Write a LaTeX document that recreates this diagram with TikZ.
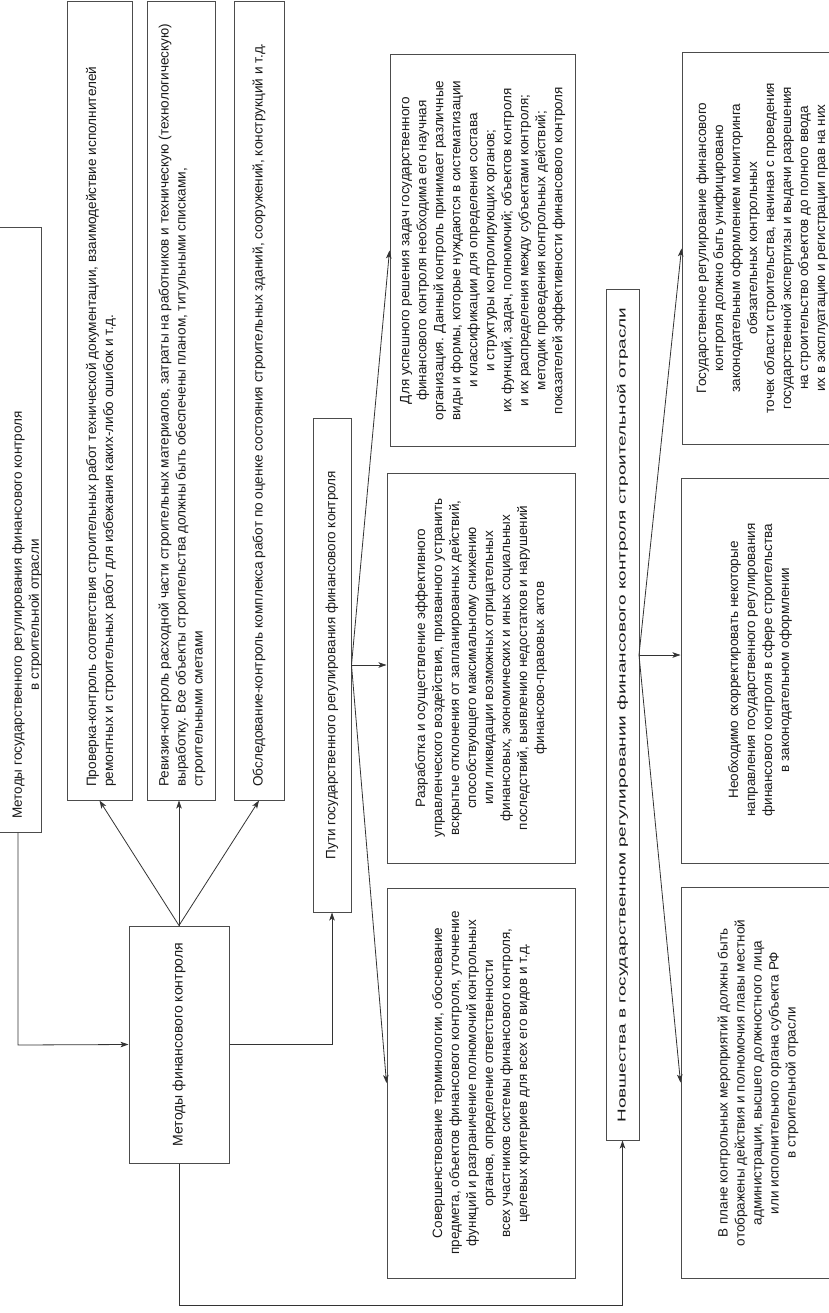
\documentclass[tikz,border=0pt]{standalone}
\usepackage{fontspec}
\setmainfont{Liberation Sans}
\usetikzlibrary{arrows.meta,fit,calc}
\begin{document}
\begin{tikzpicture}[x=1pt,y=1pt,
  box/.style={draw=black!70, line width=1pt, inner sep=0pt, fill=white},
  arr/.style={draw=black!80, line width=0.8pt, -{Stealth[length=8pt,width=5.5pt,inset=2pt]}},
  lbl/.style={rotate=90, font=\fontsize{13.5}{17}\selectfont, text=black!90, inner sep=0pt},
  lblb/.style={lbl, font=\fontsize{13.6}{17}\selectfont},
  ]
\fill[white] (0,0) rectangle (828,-1313);
\useasboundingbox (0,0) rectangle (828,-1313);

% left column
\node[box, fit={(-20,-228) (41,-832)}] (A) {};
\node[lbl, align=center] (At) at (27,-615) {Методы государственного регулирования финансового контроля\\в строительной отрасли};

\node[box, fit={(67,-2) (132,-800)}] (B1) {};
\node[lblb, anchor=west, align=left] (B1t) at (101,-787) {Проверка-контроль соответствия строительных работ технической документации, взаимодействие исполнителей\\ремонтных и строительных работ для избежания каких-либо ошибок и т.д.};

\node[box, fit={(147,-2) (215,-800)}] (B2) {};
\node[lblb, anchor=west, align=left] (B2t) at (182,-787) {Ревизия-контроль расходной части строительных материалов, затраты на работников и техническую (технологическую)\\выработку. Все объекты строительства должны быть обеспечены планом, титульными списками,\\строительными сметами};

\node[box, fit={(234,-2) (284,-800)}] (B3) {};
\node[lblb, anchor=west, align=left] (B3t) at (259,-787) {Обследование-контроль комплекса работ по оценке состояния строительных зданий, сооружений, конструкций и т.д.};

\node[box, fit={(129,-926) (229,-1163)}] (M) {};
\node[lbl, font=\fontsize{14}{17}\selectfont] (Mt) at (M.center) {Методы финансового контроля};

\node[box, fit={(313,-418) (351,-912)}] (P) {};
\node[lbl] (Pt) at (P.center) {Пути государственного регулирования финансового контроля};

% middle column
\node[box, fit={(390,-55) (575,-446)}] (D1) {};
\node[lbl, align=center] (D1t) at (D1.center) {Для успешного решения задач государственного\\финансового контроля необходима его научная\\организация. Данный контроль принимает различные\\виды и формы, которые нуждаются в систематизации\\и классификации для определения состава\\и структуры контролирующих органов;\\их функций, задач, полномочий; объектов контроля\\и их распределения между субъектами контроля;\\методик проведения контрольных действий;\\показателей эффективности финансового контроля};

\node[box, fit={(387,-473) (575,-863)}] (D2) {};
\node[lbl, align=center] (D2t) at (D2.center) {Разработка и осуществление эффективного\\управленческого воздействия, призванного устранить\\вскрытые отклонения от запланированных действий,\\способствующего максимальному снижению\\или ликвидации возможных отрицательных\\финансовых, экономических и иных социальных\\последствий, выявлению недостатков и нарушений\\финансово-правовых актов};

\node[box, fit={(387,-888) (575,-1278)}] (D3) {};
\node[lbl, align=center] (D3t) at (D3.center) {Совершенствование терминологии, обоснование\\предмета, объектов финансового контроля, уточнение\\функций и разграничение полномочий контрольных\\органов, определение ответственности\\всех участников системы финансового контроля,\\целевых критериев для всех его видов и т.д.};

\node[box, fit={(606,-290) (639,-1140)}] (N) {};
\node[lbl, font=\fontsize{11.5}{14}\selectfont] (Nt) at (N.center) {\resizebox{815pt}{\height}{Новшества в государственном регулировании финансового контроля строительной отрасли}};

% right column
\node[box, fit={(682,-53) (870,-444)}] (E1) {};
\node[lbl, align=center] (E1t) at (762,-248) {Государственное регулирование финансового\\контроля должно быть унифицировано\\законодательным оформлением мониторинга\\обязательных контрольных\\точек области строительства, начиная с проведения\\государственной экспертизы и выдачи разрешения\\на строительство объектов до полного ввода\\их в эксплуатацию и регистрации прав на них};

\node[box, fit={(681,-478) (870,-863)}] (E2) {};
\node[lbl, align=center] (E2t) at (760,-670) {Необходимо скорректировать некоторые\\направления государственного регулирования\\финансового контроля в сфере строительства\\в законодательном оформлении};

\node[box, fit={(681,-887) (870,-1278)}] (E3) {};
\node[lbl, align=center] (E3t) at (758,-1083) {В плане контрольных мероприятий должны быть\\отображены действия и полномочия главы местной\\администрации, высшего должностного лица\\или исполнительного органа субъекта РФ\\в строительной отрасли};

% connectors
\coordinate (a1) at (18,-1045);
\draw[arr] (A.south -| a1) -- (a1) -- (M.west);
\draw[arr] (M.north) -- (B1.south);
\draw[arr] (M.north) -- (B2.south -| M.north);
\draw[arr] (M.north) -- (B3.south);
\draw[arr] (M.east) -| (P.south);
\draw[arr] (P.east) -- (D1.west);
\draw[arr] (P.east) -- (D2.west |- P.east);
\draw[arr] (P.east) -- (D3.west);
\coordinate (bl) at (179,-1305);
\draw[arr] (M.south) -- (bl) -| (N.south);
\coordinate (nout) at (639,-655);
\draw[arr] (nout) -- (E1.west);
\draw[arr] (nout) -- (E2.west |- nout);
\draw[arr] (nout) -- (E3.west);
\end{tikzpicture}
\end{document}
